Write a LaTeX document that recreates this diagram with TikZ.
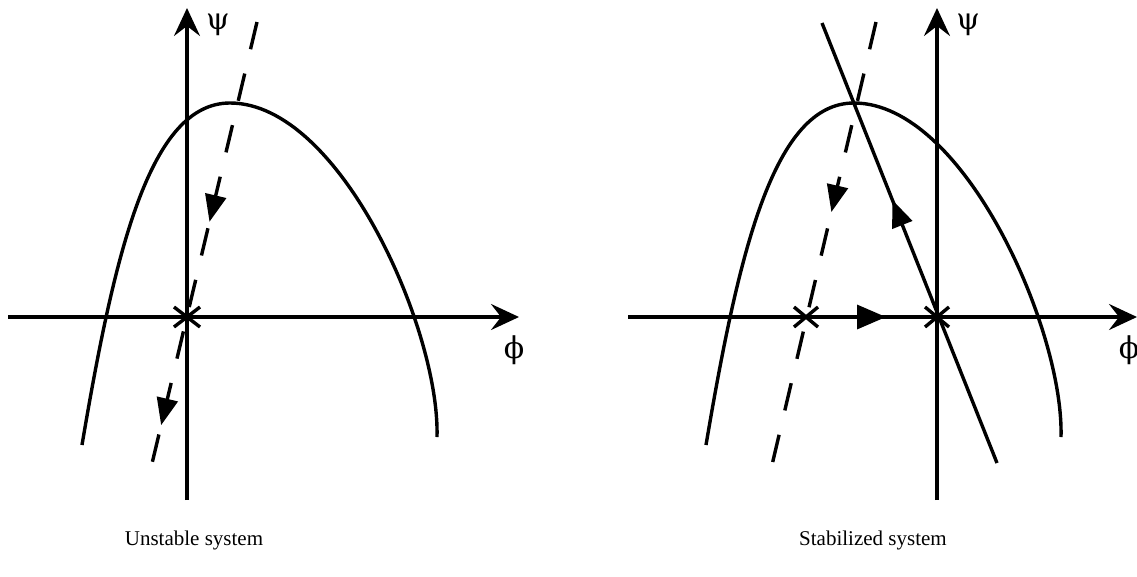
\documentclass[tikz,border=0pt]{standalone}
\usepackage{fontspec}
\setmainfont{Liberation Serif}
\newfontfamily\greekfont{DejaVu Serif}
\usetikzlibrary{arrows.meta,decorations.markings,calc}
\begin{document}
\begin{tikzpicture}[x=1pt,y=-1pt,
  ax/.style={line width=3.4pt,-{Stealth[length=28pt,width=26pt,inset=10pt]}},
  crv/.style={line width=3.4pt},
  dsh/.style={line width=3.4pt,dash pattern=on 28pt off 25pt},
  sld/.style={line width=3.4pt},
  mk/.style={line width=3.4pt},
  flow/.style={postaction={decorate},decoration={markings,mark=at position #1 with {\arrow{Triangle[length=27pt,width=21pt]}}}},
  flowtwo/.style 2 args={postaction={decorate},decoration={markings,mark=at position #1 with {\arrow{Triangle[length=27pt,width=21pt]}},mark=at position #2 with {\arrow{Triangle[length=27pt,width=21pt]}}}},
  lbl/.style={font=\fontsize{21}{25}\selectfont},
  grk/.style={font=\greekfont\fontsize{30}{34}\selectfont}]
\useasboundingbox (0,0) rectangle (1137,576);
\fill[white] (0,0) rectangle (1137,576);

% ---------- left panel ----------
\coordinate (O1) at (187,317);
\coordinate (XL1) at (8,317);
\coordinate (XR1) at (519,317);
\coordinate (YB1) at (187,500);
\coordinate (YT1) at (187,8);
\draw[ax] (XL1) -- (XR1);
\draw[ax] (YB1) -- (YT1);
\node[grk] (psi1) at (218,25) {ψ};
\node[grk] (phi1) at (514,350) {ϕ};
\coordinate (PL1) at (82,445);
\coordinate (PK1) at (230,103);
\coordinate (PR1) at (437,437);
\draw[crv] (PL1) .. controls (115,250) and (150,103) .. (PK1)
               .. controls (340,103) and (440,330) .. (PR1);
\coordinate (DT1) at (257,22);
\coordinate (DB1) at (150,472);
\draw[dsh,flowtwo={0.444}{0.896}] (DT1) -- (DB1);
\draw[mk] ($(O1)+(-13,-10)$) -- ($(O1)+(13,10)$);
\draw[mk] ($(O1)+(-13,10)$) -- ($(O1)+(13,-10)$);
\node[lbl,anchor=base] (cap1) at (194,545) {Unstable system};

% ---------- right panel ----------
\coordinate (O2) at (937,317);
\coordinate (E2) at (806,317);
\coordinate (XL2) at (628,317);
\coordinate (XR2) at (1137,317);
\coordinate (YB2) at (937,500);
\coordinate (YT2) at (937,8);
\draw[ax] (XL2) -- (XR2);
\draw[ax] (YB2) -- (YT2);
\node[grk] (psi2) at (968,25) {ψ};
\node[grk] (phi2) at (1129,350) {ϕ};
\coordinate (PL2) at (706,445);
\coordinate (PK2) at (854,103);
\coordinate (PR2) at (1061,437);
\draw[crv] (PL2) .. controls (739,250) and (774,103) .. (PK2)
               .. controls (964,103) and (1064,330) .. (PR2);
\coordinate (DT2) at (876,22);
\coordinate (DB2) at (772,465);
\draw[dsh,flow=0.429] (DT2) -- (DB2);
\coordinate (SB2) at (997,463);
\coordinate (ST2) at (822,23);
\draw[sld,flow=0.598] (SB2) -- (ST2);
\coordinate (AT2) at (886,317);
\draw[sld,-{Triangle[length=29pt,width=24pt]}] (E2) -- (AT2);
\draw[mk] ($(E2)+(-12,-10)$) -- ($(E2)+(12,10)$);
\draw[mk] ($(E2)+(-12,10)$) -- ($(E2)+(12,-10)$);
\draw[mk] ($(O2)+(-12,-10)$) -- ($(O2)+(12,10)$);
\draw[mk] ($(O2)+(-12,10)$) -- ($(O2)+(12,-10)$);
\node[lbl,anchor=base] (cap2) at (873,545) {Stabilized system};
\end{tikzpicture}
\end{document}
